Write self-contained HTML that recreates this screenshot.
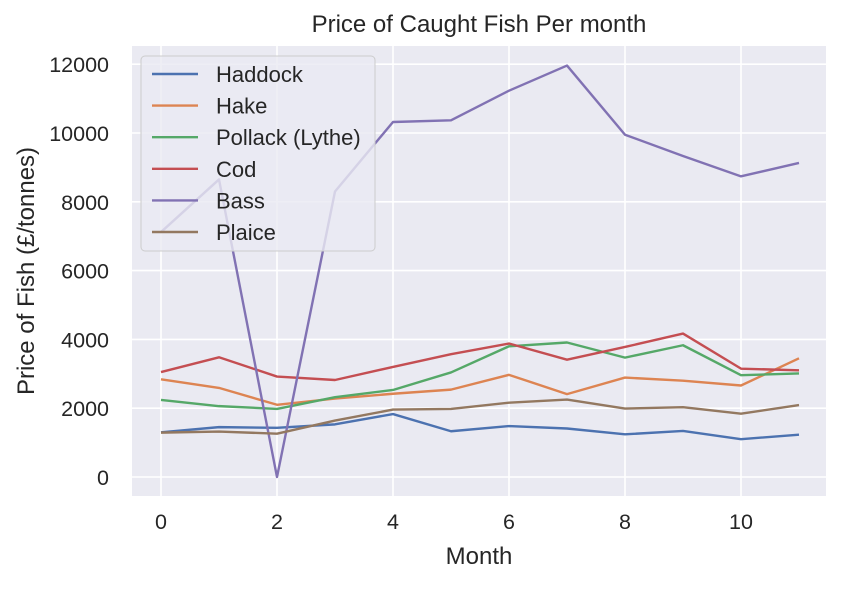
<!DOCTYPE html>
<html><head><meta charset="utf-8"><style>
body{margin:0;background:#fff;}
svg{font-family:"Liberation Sans","DejaVu Sans",sans-serif;}
</style></head><body>
<svg id="chart" width="842" height="584">
<rect x="132" y="46" width="694" height="450" fill="#eaeaf2"/>
<g id="grid"></g><g id="ticks"></g><g id="lines"></g>
<text x="479" y="32" text-anchor="middle" font-size="24" fill="#262626">Price of Caught Fish Per month</text>
<text x="479" y="564" text-anchor="middle" font-size="24" fill="#262626">Month</text>
<text transform="translate(34,271) rotate(-90)" text-anchor="middle" font-size="24" fill="#262626">Price of Fish (£/tonnes)</text>
<g id="legend"></g>
</svg>
<script>
const months=[0,1,2,3,4,5,6,7,8,9,10,11];
const seriesNames=["Haddock","Hake","Pollack (Lythe)","Cod","Bass","Plaice"];
const haddock=[1300,1450,1430,1530,1830,1330,1480,1410,1240,1340,1100,1230];
const hake=[2840,2590,2100,2280,2420,2540,2970,2410,2890,2800,2660,3450];
const pollack=[2240,2060,1980,2320,2530,3040,3800,3910,3470,3830,2960,3010];
const cod=[3050,3480,2920,2820,3200,3570,3880,3410,3780,4170,3150,3100];
const bass=[7120,8650,0,8300,10320,10370,11230,11960,9950,9330,8740,9130];
const plaice=[1290,1320,1260,1640,1960,1980,2160,2250,1990,2030,1840,2090];
const xTicks=[0,2,4,6,8,10];
const yTicks=[0,2000,4000,6000,8000,10000,12000];
const colors=["#4c72b0","#dd8452","#55a868","#c44e52","#8172b3","#937860"];
const allSeries=[haddock,hake,pollack,cod,bass,plaice];
const NS="http://www.w3.org/2000/svg";
const xS=v=>161+v*58;
const yS=v=>477-v*0.0344;
function mk(tag,attrs,parent){const e=document.createElementNS(NS,tag);for(const k in attrs)e.setAttribute(k,attrs[k]);parent.appendChild(e);return e;}
const grid=document.getElementById('grid'),ticks=document.getElementById('ticks'),lines=document.getElementById('lines'),legend=document.getElementById('legend');
xTicks.forEach(t=>{
 const l=mk('line',{x1:xS(t),x2:xS(t),y1:46,y2:496,stroke:'#fff','stroke-width':1.6},grid);
 
 
 const tx=mk('text',{x:xS(t),y:529,'text-anchor':'middle','font-size':21.5,fill:'#262626'},ticks);
 tx.textContent=t;
 
 
});
yTicks.forEach(t=>{
 const l=mk('line',{x1:132,x2:826,y1:yS(t),y2:yS(t),stroke:'#fff','stroke-width':1.6},grid);
 
 
 const tx=mk('text',{x:109,y:yS(t)+8,'text-anchor':'end','font-size':21.5,fill:'#262626'},ticks);
 tx.textContent=t;
 
 
});
allSeries.forEach((s,i)=>{
 const p=mk('polyline',{points:s.map((v,j)=>xS(months[j])+','+yS(v)).join(' '),fill:'none',stroke:colors[i],'stroke-width':2.4,'stroke-linejoin':'round'},lines);
 
 
});
const box=mk('rect',{x:141,y:56,width:234,height:195,rx:4,fill:'#eaeaf2','fill-opacity':0.8,stroke:'#cccccc'},legend);


seriesNames.forEach((n,i)=>{
 const y=74+i*31.6;
 const l=mk('line',{x1:152,x2:198,y1:y,y2:y,stroke:colors[i],'stroke-width':2.4},legend);
 
 
 const t=mk('text',{x:216,y:y+8,'font-size':22,fill:'#262626'},legend);
 t.textContent=n;
 
 
});
</script>
</body></html>
